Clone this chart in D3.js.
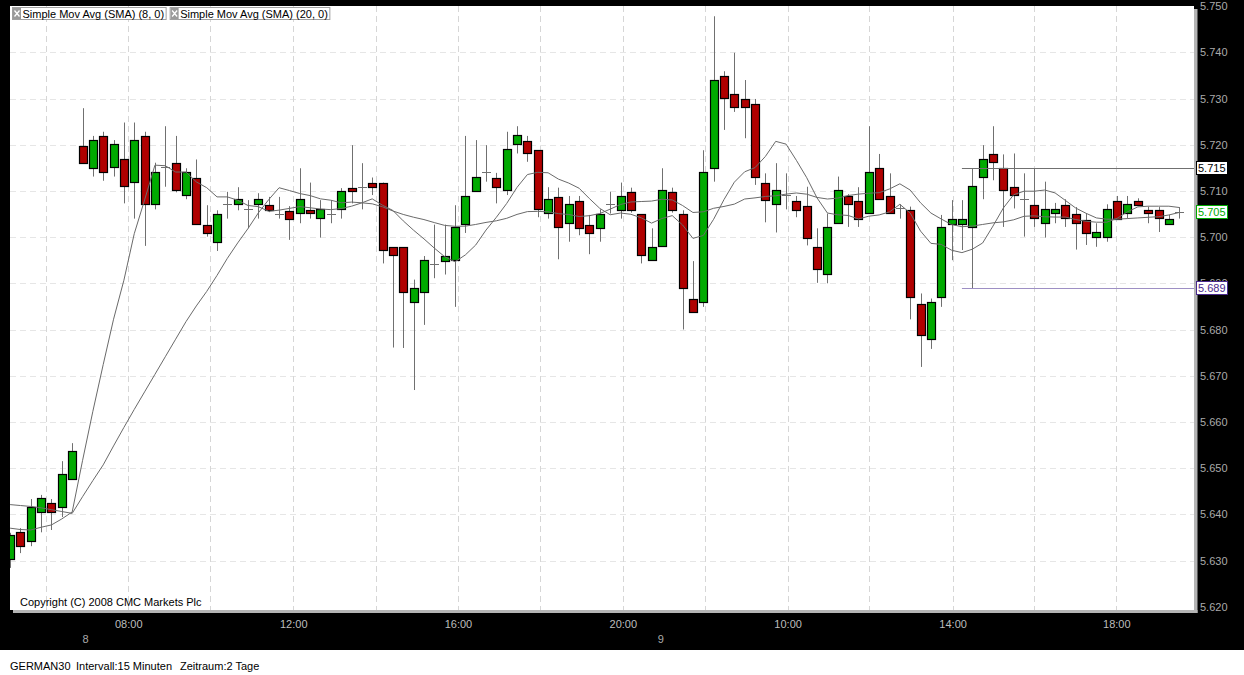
<!DOCTYPE html>
<html>
<head>
<meta charset="utf-8">
<script src="https://cdnjs.cloudflare.com/ajax/libs/d3/7.8.5/d3.min.js"></script>
<style>
  body { margin: 0; background: #000; }
  svg { display: block; font-family: "Liberation Sans", Arial, sans-serif; }
</style>
</head>
<body>
<svg id="chart" width="1244" height="675"></svg>
<script>
// GERMAN30, 15 min bars (points)
const opens = [5630.3,5636.1,5634.2,5640.5,5642.4,5641.6,5647.6,5719.8,5715.1,5721.9,
  5715.1,5716.8,5712.1,5721.9,5707.1,5715.2,5716.0,5709.0,5712.9,5702.7,
  5699.1,5707.1,5707.1,5706.1,5707.1,5706.9,5705.1,5705.7,5705.1,5705.8,
  5704.0,5705.1,5706.0,5710.7,5710.9,5711.8,5711.8,5697.8,5697.8,5685.9,
  5688.0,5694.1,5695.0,5695.0,5703.0,5710.1,5714.0,5712.9,5710.1,5720.1,
  5720.8,5718.8,5705.1,5708.7,5703.0,5707.9,5702.7,5702.1,5707.1,5706.0,
  5709.8,5704.9,5695.0,5698.0,5709.8,5704.9,5686.7,5685.9,5715.1,5734.8,
  5730.9,5729.8,5728.9,5711.8,5707.1,5709.2,5707.9,5706.8,5697.8,5691.9,
  5703.0,5708.8,5707.9,5705.1,5714.9,5708.8,5706.2,5705.8,5685.6,5677.9,
  5686.9,5703.0,5703.0,5702.1,5713.1,5717.9,5714.9,5710.8,5708.2,5706.9,
  5703.0,5705.1,5706.9,5704.9,5703.8,5699.9,5699.9,5707.9,5705.1,5707.9,
  5705.8,5705.8,5703.0,5705.35];
const highs = [5636.0,5637.0,5643.3,5644.2,5643.3,5651.5,5655.4,5727.9,5721.9,5722.8,
  5721.0,5724.8,5724.8,5722.8,5716.1,5724.0,5721.9,5714.9,5716.8,5706.9,
  5705.8,5709.8,5710.8,5708.0,5709.5,5708.7,5708.7,5706.7,5714.9,5711.8,
  5708.0,5708.0,5710.6,5719.9,5716.0,5712.9,5711.8,5697.8,5697.8,5690.8,
  5695.9,5702.7,5702.7,5706.9,5721.9,5721.0,5719.9,5713.9,5722.8,5724.0,
  5721.9,5718.8,5710.8,5710.7,5708.9,5708.9,5704.8,5706.0,5709.8,5711.8,
  5710.7,5704.9,5701.9,5714.9,5710.7,5705.8,5694.8,5718.8,5747.8,5735.9,
  5739.9,5734.0,5729.9,5713.8,5716.0,5713.8,5708.9,5710.9,5701.9,5705.1,
  5713.1,5709.3,5710.8,5724.0,5718.0,5713.8,5707.1,5706.6,5687.8,5686.7,
  5704.8,5708.0,5708.0,5714.9,5719.9,5724.0,5717.9,5718.1,5713.8,5714.9,
  5712.0,5707.4,5708.2,5706.5,5705.2,5703.0,5707.1,5708.9,5708.9,5708.4,
  5706.6,5706.5,5704.8,5706.5];
const lows = [5628.4,5631.6,5633.1,5636.1,5636.6,5639.4,5647.6,5716.2,5713.1,5712.2,
  5713.1,5707.3,5704.0,5698.1,5706.0,5710.9,5709.7,5708.2,5703.0,5700.1,
  5697.0,5704.0,5705.8,5701.9,5704.0,5705.4,5704.0,5699.4,5703.0,5704.0,
  5699.9,5703.0,5704.0,5707.3,5706.0,5709.1,5694.3,5676.1,5676.0,5666.9,
  5681.0,5691.1,5691.9,5684.9,5700.9,5710.1,5712.0,5707.3,5709.1,5718.1,
  5716.3,5704.3,5704.0,5695.2,5699.0,5700.4,5696.3,5699.0,5705.1,5704.0,
  5705.3,5694.3,5695.0,5698.0,5705.3,5680.0,5683.9,5684.9,5712.0,5723.2,
  5727.1,5721.4,5711.3,5703.2,5701.0,5706.0,5704.3,5698.2,5690.1,5690.0,
  5703.0,5702.2,5702.2,5705.1,5708.2,5705.1,5704.0,5682.2,5671.9,5675.8,
  5684.9,5695.0,5697.2,5688.9,5708.2,5712.3,5702.2,5706.2,5700.1,5702.2,
  5699.9,5703.0,5702.2,5697.3,5698.3,5697.9,5699.0,5704.0,5704.0,5706.9,
  5703.0,5701.1,5703.0,5704.0];
const closes = [5635.5,5633.1,5641.6,5643.5,5640.5,5648.7,5653.7,5716.2,5721.1,5714.0,
  5720.1,5711.0,5721.1,5707.1,5714.0,5715.2,5710.2,5714.0,5703.0,5701.0,
  5705.1,5707.1,5708.2,5706.1,5708.2,5705.9,5705.1,5704.0,5708.2,5705.1,
  5706.0,5705.1,5710.0,5710.0,5710.9,5710.9,5697.2,5696.0,5688.0,5688.9,
  5695.0,5694.1,5696.0,5702.1,5709.0,5713.1,5714.0,5711.0,5719.0,5722.0,
  5718.1,5706.0,5708.2,5702.1,5707.1,5702.1,5701.0,5705.1,5707.1,5709.0,
  5706.0,5696.0,5697.9,5710.1,5706.0,5688.9,5683.9,5714.0,5734.1,5730.0,
  5728.1,5728.1,5713.2,5708.2,5710.1,5709.2,5706.0,5699.9,5693.0,5702.1,
  5710.1,5707.1,5704.0,5714.0,5708.2,5705.1,5706.2,5686.9,5678.9,5685.9,
  5702.1,5704.0,5704.0,5711.0,5717.0,5716.2,5710.1,5709.0,5708.2,5704.0,
  5706.0,5706.0,5704.0,5703.0,5701.0,5701.0,5706.0,5704.0,5707.1,5707.1,
  5705.1,5704.0,5704.0,5705.35];

// moving average values before a full window is on screen
const sma8Start = [5637.0,5636.7,5636.6,5637.2,5637.7,5639.0,5640.5];
const sma20Start = [5642.1,5641.9,5641.7,5641.4,5641.0,5640.6,5640.2,5643.8,5647.3,5650.7,
  5654.8,5658.8,5662.7,5666.5,5670.3,5674.1,5677.9,5681.7,5685.1];

const legendLabels = ["Simple Mov Avg (SMA) (8, 0)", "Simple Mov Avg (SMA) (20, 0)"];
const priceTicks = d3.range(5620, 5751, 10);
const gridIdx = [3.47, 11.42, 19.35, 27.37, 35.34, 43.29, 51.26, 59.22, 67.19, 75.15, 83.05, 91.1, 99.0, 106.92];
const timeLabels = ["08:00", "12:00", "16:00", "20:00", "10:00", "14:00", "18:00"];
const timeLabelIdx = [11.42, 27.37, 43.29, 59.22, 75.15, 91.1, 106.92];
const dayLabels = ["8", "9"];
const dayLabelIdx = [7.3, 62.9];
const levels = [5715, 5689];
const levelStart = 92;
const footerTexts = ["GERMAN30", "Intervall:15 Minuten", "Zeitraum:2 Tage"];

const width = 1244, height = 675;
const plot = { left: 10, top: 6, right: 1194, bottom: 610 };
const svg = d3.select("#chart");

const de = d3.formatLocale({ decimal: ",", thousands: ".", grouping: [3], currency: ["", "€"] });
const fmt = de.format(",.0f");

const x = d3.scaleLinear().domain([0, 113]).range([10.1, 1179.2]);
const y = d3.scaleLinear().domain([5620, 5750]).range([606.7, 6.1]);
const px = v => Math.round(v) + 0.5;

// background, footer strip
svg.append("rect").attr("width", width).attr("height", height).attr("fill", "#000");
svg.append("rect").attr("x", 0).attr("y", 650).attr("width", width).attr("height", 25).attr("fill", "#fff");

// plot shadow + plot area
svg.append("rect").attr("x", plot.right).attr("y", plot.top + 3).attr("width", 3.5)
  .attr("height", plot.bottom - plot.top).attr("fill", "#b4b4b4");
svg.append("rect").attr("x", plot.left + 3).attr("y", plot.bottom).attr("width", plot.right - plot.left + 0.5)
  .attr("height", 3).attr("fill", "#b4b4b4");
svg.append("rect").attr("x", plot.left).attr("y", plot.top)
  .attr("width", plot.right - plot.left).attr("height", plot.bottom - plot.top).attr("fill", "#fff");

svg.append("clipPath").attr("id", "clip").append("rect")
  .attr("x", plot.left).attr("y", plot.top)
  .attr("width", plot.right - plot.left).attr("height", plot.bottom - plot.top);

const g = svg.append("g").attr("clip-path", "url(#clip)");

// grid
g.selectAll(".hgrid").data(priceTicks.slice(1, -1)).join("line")
  .attr("x1", plot.left).attr("x2", plot.right)
  .attr("y1", d => px(y(d))).attr("y2", d => px(y(d)))
  .attr("stroke", "#e6e6e6").attr("stroke-dasharray", "6,4");
g.selectAll(".vgrid").data(gridIdx).join("line")
  .attr("x1", d => px(x(d))).attr("x2", d => px(x(d)))
  .attr("y1", plot.top).attr("y2", plot.bottom)
  .attr("stroke", "#d6d6d6").attr("stroke-dasharray", "6,4");

// candles
const candles = closes.map((c, i) => ({ i, o: opens[i], h: highs[i], l: lows[i], c }));

g.selectAll(".wick").data(candles).join("line")
  .attr("x1", d => px(x(d.i))).attr("x2", d => px(x(d.i)))
  .attr("y1", d => y(d.h)).attr("y2", d => y(d.l))
  .attr("stroke", "#707070").attr("stroke-width", 1);

g.selectAll(".doji").data(candles.filter(d => d.o === d.c)).join("line")
  .attr("x1", d => Math.round(x(d.i)) - 4).attr("x2", d => Math.round(x(d.i)) + 5)
  .attr("y1", d => px(y(d.c))).attr("y2", d => px(y(d.c)))
  .attr("stroke", "#707070");

g.selectAll(".body").data(candles.filter(d => d.o !== d.c)).join("rect")
  .attr("x", d => Math.round(x(d.i)) - 4 + 0.5)
  .attr("y", d => Math.round(y(Math.max(d.o, d.c))) + 0.5)
  .attr("width", 8)
  .attr("height", d => Math.max(2, Math.round(y(Math.min(d.o, d.c)) - y(Math.max(d.o, d.c)))))
  .attr("fill", d => d.c > d.o ? "#00aa00" : "#b00000")
  .attr("stroke", "#000").attr("stroke-width", 1.2);

// moving averages
function sma(n, start) {
  return closes.map((c, i) => ({
    i,
    v: i < start.length ? start[i] : d3.mean(closes.slice(i - n + 1, i + 1))
  }));
}
const line = d3.line().x(d => x(d.i)).y(d => y(d.v));
[sma(8, sma8Start), sma(20, sma20Start)].forEach(s => {
  g.append("path").datum(s).attr("d", line)
    .attr("fill", "none").attr("stroke", "#6a6a6a").attr("stroke-width", 1);
});

// price levels
const levelColors = ["#707070", "#9d8fc4"];
g.selectAll(".level").data(levels).join("line")
  .attr("x1", x(levelStart)).attr("x2", plot.right)
  .attr("y1", d => px(y(d))).attr("y2", d => px(y(d)))
  .attr("stroke", (d, i) => levelColors[i]);

// copyright
svg.append("text").attr("x", 20).attr("y", 606).attr("font-size", 11).attr("fill", "#000")
  .text("Copyright (C) 2008 CMC Markets Plc");

// legend
let lx = 12.5;
legendLabels.forEach(lbl => {
  const lg = svg.append("g");
  const box = lg.append("rect").attr("x", lx).attr("y", 7.5).attr("height", 12)
    .attr("fill", "#fff").attr("stroke", "#a0a0a0");
  lg.append("rect").attr("x", lx + 0.5).attr("y", 8).attr("width", 8).attr("height", 11).attr("fill", "#9a9a9a");
  lg.append("path").attr("d", `M${lx + 2},${10.5}L${lx + 7},${16.5}M${lx + 7},${10.5}L${lx + 2},${16.5}`)
    .attr("stroke", "#fff").attr("stroke-width", 1.3);
  const t = lg.append("text").attr("x", lx + 10).attr("y", 17.5).attr("font-size", 11).attr("fill", "#000").text(lbl);
  const w = t.node().getComputedTextLength() + 12;
  box.attr("width", w);
  lx += w + 4;
});

// right price axis
const ay = svg.append("g").attr("transform", "translate(1200,0)")
  .call(d3.axisRight(y).tickValues(priceTicks).tickFormat(fmt).tickSize(0).tickPadding(0));
ay.select(".domain").remove();
ay.attr("font-family", null).attr("font-size", 11);
ay.selectAll("text").attr("fill", "#aaaaaa");

// level boxes
const boxes = [
  { v: levels[0], color: "#000", stroke: "#000" },
  { v: closes[closes.length - 1], color: "#00aa00", stroke: "#00aa00" },
  { v: levels[1], color: "#4a2a8e", stroke: "#4a2a8e" }
];
boxes.forEach(b => {
  const cy = Math.round(y(b.v));
  svg.append("rect").attr("x", 1196.5).attr("y", cy - 6.5).attr("width", 31).attr("height", 13)
    .attr("fill", "#fff").attr("stroke", b.stroke);
  svg.append("text").attr("x", 1198).attr("y", cy + 4).attr("font-size", 11)
    .attr("fill", b.color).text(fmt(b.v));
});

// bottom time axis
const ax = svg.append("g").attr("transform", "translate(0,620)")
  .call(d3.axisBottom(x).tickValues(timeLabelIdx).tickFormat((d, i) => timeLabels[i]).tickSize(0).tickPadding(0));
ax.select(".domain").remove();
ax.attr("font-family", null).attr("font-size", 11);
ax.selectAll("text").attr("fill", "#bdbdbd");

svg.selectAll(".day").data(dayLabels).join("text")
  .attr("x", (d, i) => x(dayLabelIdx[i])).attr("y", 643).attr("text-anchor", "middle")
  .attr("font-size", 11).attr("fill", "#aaaaaa").text(d => d);

// footer
const footerX = [10, 76, 180];
svg.selectAll(".foot").data(footerTexts).join("text")
  .attr("x", (d, i) => footerX[i]).attr("y", 670).attr("font-size", 11).attr("fill", "#000").text(d => d);
</script>
</body>
</html>
